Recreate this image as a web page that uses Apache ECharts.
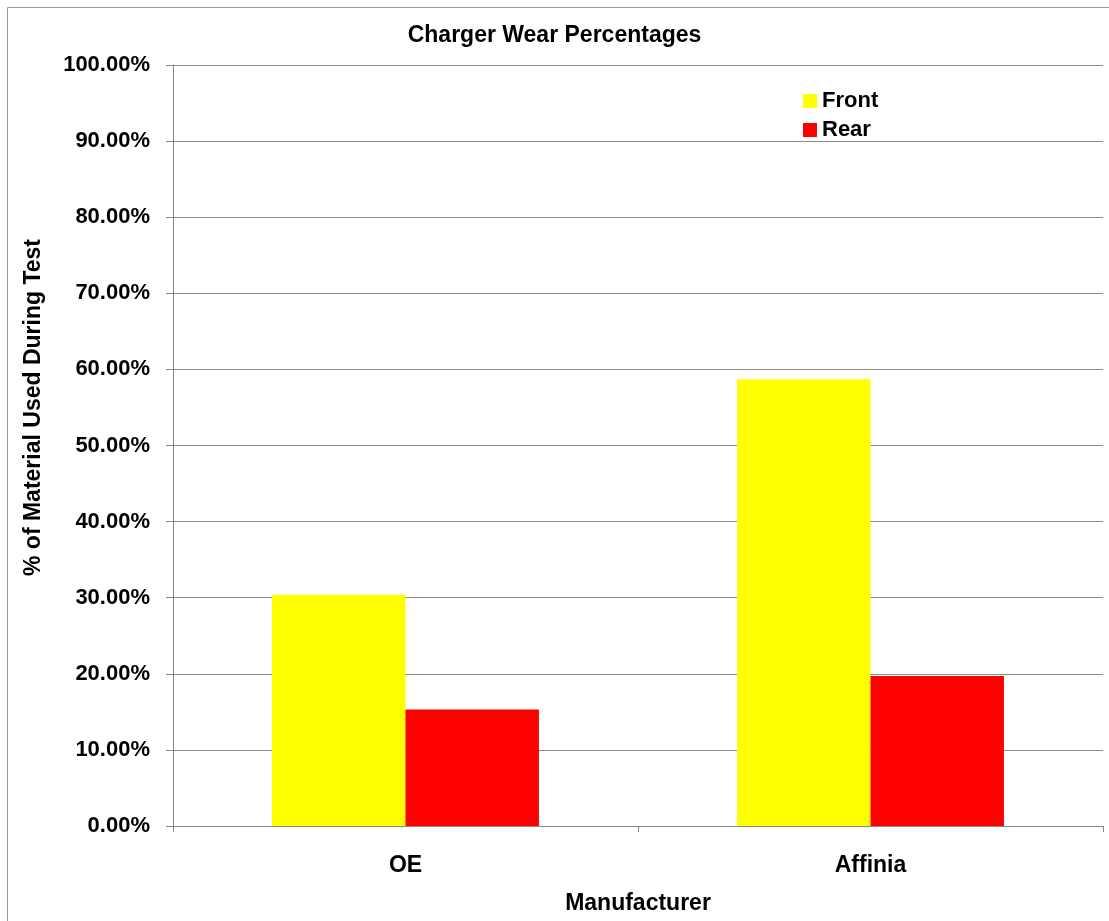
<!DOCTYPE html>
<html><head><meta charset="utf-8">
<script src="https://cdn.jsdelivr.net/npm/echarts@6/dist/echarts.min.js"></script>
<style>html,body{margin:0;padding:0;background:#fff}#c{width:1109px;height:921px}</style>
</head><body><div id="c"></div>
<script>
const categories = ['OE', 'Affinia'];
const frontValues = [30.4, 58.7];
const rearValues = [15.3, 19.7];
const seriesNames = ['Front', 'Rear'];
const yTicks = [0, 10, 20, 30, 40, 50, 60, 70, 80, 90, 100];

const FONT = 'Liberation Sans, Arial, sans-serif';
const FS = 22;
const chart = echarts.init(document.getElementById('c'), null, {renderer: 'canvas'});
chart.setOption({
  backgroundColor: '#fff',
  animation: false,
  title: {
    text: 'Charger Wear Percentages', left: 'center', top: 19,
    textStyle: {fontFamily: FONT, fontWeight: 'bold', fontSize: 23, color: '#000'}
  },
  graphic: [{type: 'rect', shape: {x: 7.5, y: 7.5, width: 1200, height: 1000},
    style: {fill: 'none', stroke: '#999', lineWidth: 1}, silent: true}],
  legend: {
    orient: 'vertical', left: 798, top: 85, itemWidth: 14, itemHeight: 14, itemGap: 7,
    icon: 'rect',
    data: seriesNames,
    textStyle: {fontFamily: FONT, fontWeight: 'bold', fontSize: FS, color: '#000'}
  },
  grid: {left: 173, right: 6, top: 65, bottom: 95, containLabel: false},
  xAxis: {
    type: 'category', data: categories,
    name: 'Manufacturer', nameLocation: 'middle', nameGap: 66,
    nameTextStyle: {fontFamily: FONT, fontWeight: 'bold', fontSize: 23, color: '#000'},
    axisLine: {lineStyle: {color: '#888', width: 1}},
    axisTick: {show: true, length: 6, lineStyle: {color: '#888'}},
    axisLabel: {fontFamily: FONT, fontWeight: 'bold', fontSize: 23, color: '#000', margin: 28}
  },
  yAxis: {
    type: 'value', min: yTicks[0], max: yTicks[yTicks.length - 1], interval: 10,
    name: '% of Material Used During Test', nameLocation: 'middle', nameGap: 128, nameRotate: 90,
    nameTextStyle: {fontFamily: FONT, fontWeight: 'bold', fontSize: 23, color: '#000', padding: [0, 0, 0, 76]},
    axisLine: {show: true, lineStyle: {color: '#888', width: 1}},
    axisTick: {show: true, length: 7, lineStyle: {color: '#888'}},
    splitLine: {show: true, lineStyle: {color: '#8c8c8c', width: 1}},
    axisLabel: {fontFamily: FONT, fontWeight: 'bold', fontSize: FS, color: '#000', margin: 23,
      formatter: v => v.toFixed(2) + '%'}
  },
  series: [
    {name: seriesNames[0], type: 'bar', data: frontValues, barGap: '0%', barCategoryGap: '42.6%',
      itemStyle: {color: '#ffff00'}},
    {name: seriesNames[1], type: 'bar', data: rearValues, barGap: '0%', barCategoryGap: '42.6%',
      itemStyle: {color: '#ff0000'}}
  ]
});
</script></body></html>
